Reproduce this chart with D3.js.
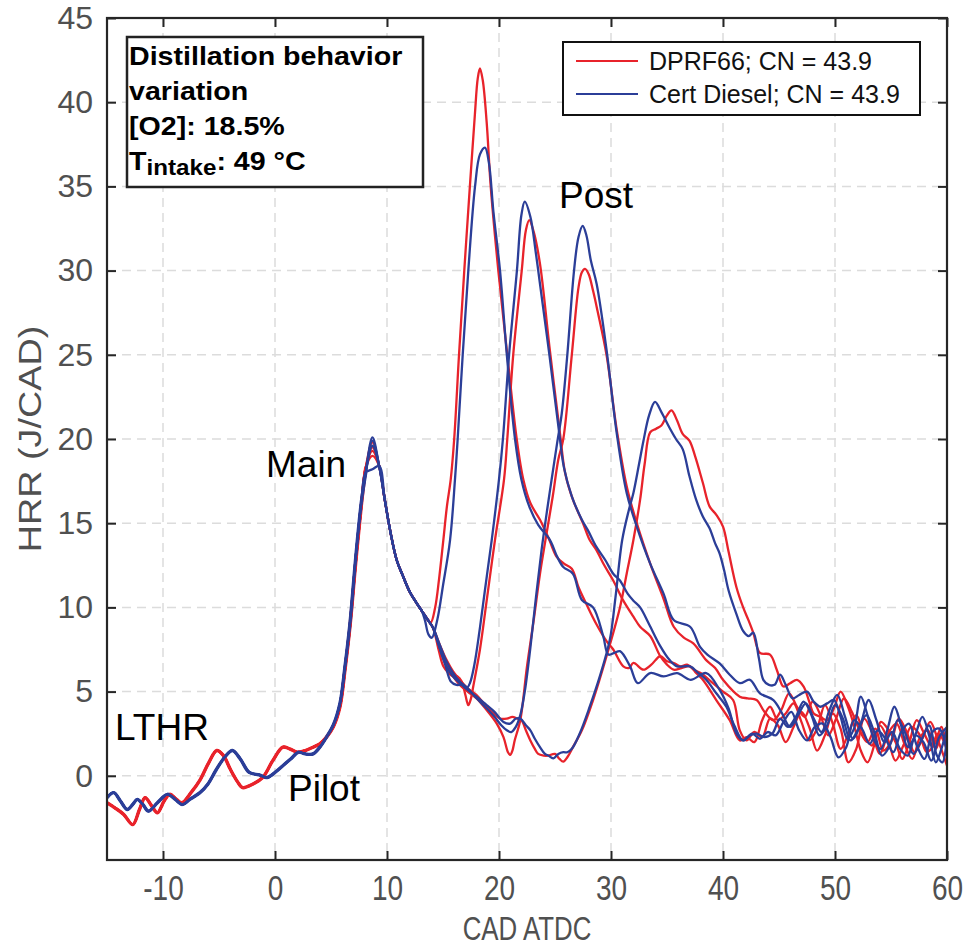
<!DOCTYPE html>
<html><head><meta charset="utf-8">
<script src="https://cdn.jsdelivr.net/npm/d3@7"></script>
<style>body{margin:0;background:#fff}</style>
</head><body>
<svg id="chart" width="973" height="950"></svg>
<script>
// ---------------- DATA ----------------
const xTicks = [-10, 0, 10, 20, 30, 40, 50, 60];
const yTicks = [0, 5, 10, 15, 20, 25, 30, 35, 40, 45];
const legendLabels = ["DPRF66; CN = 43.9", "Cert Diesel; CN = 43.9"];

// LTHR + pilot + main rise (shared by the four runs of each fuel)
const redPre = [[-15,-1.6],[-14.3,-1.9],[-13.5,-2.3],[-12.7,-2.9],[-12.1,-2.0],[-11.6,-1.3],[-11.0,-1.8],[-10.5,-2.2],[-9.9,-1.5],[-9.4,-1.1],[-8.8,-1.4],[-8.3,-1.6],[-7.5,-1.0],[-6.7,-0.25],[-5.9,0.8],[-5.2,1.5],[-4.6,1.2],[-4.0,0.4],[-3.4,-0.3],[-2.9,-0.7],[-2.0,-0.5],[-1.1,-0.1],[-0.2,0.9],[0.7,1.7],[1.3,1.6],[2.0,1.4],[2.7,1.5],[3.4,1.7],[4.0,1.9],[4.6,2.3],[5.2,2.9],[5.8,4.1],[6.25,6.3],[6.7,8.9],[7.2,12.6],[7.7,16.0],[8.1,18.3]];
const bluePre = [[-15,-1.3],[-14.4,-1.0],[-13.8,-1.5],[-13.2,-2.0],[-12.7,-1.7],[-12.3,-1.4],[-11.8,-1.7],[-11.3,-2.1],[-10.5,-1.6],[-9.6,-1.1],[-8.9,-1.4],[-8.3,-1.7],[-7.6,-1.4],[-6.7,-1.0],[-6.0,-0.5],[-5.3,0.3],[-4.5,1.1],[-3.8,1.5],[-3.1,1.0],[-2.3,0.2],[-1.4,0.05],[-0.7,-0.1],[0.0,0.2],[0.7,0.6],[1.4,1.0],[2.1,1.4],[2.7,1.3],[3.4,1.3],[4.0,1.7],[4.6,2.3],[5.2,3.0],[5.8,4.3],[6.25,6.5],[6.7,9.1],[7.2,12.9],[7.7,16.2],[8.1,18.0]];
const mainPeakX = 8.7;
const mainPeakRed = [19.8, 19.5, 19.3, 19.0];
const mainPeakBlue = [20.1, 19.9, 19.6, 18.2];
const mainDecay = [[9.3,18.4],[9.8,16.4],[10.3,14.5],[10.87,12.8],[11.4,11.9],[12.05,10.9],[12.6,10.3],[13.1,9.8]];

// Post-injection part of each run
const red1 = [[13.5,9.4],[13.9,9.1],[14.3,10.0],[14.65,11.7],[15.03,14.0],[15.35,16.0],[15.69,17.6],[16.0,20.0],[16.43,25.0],[16.9,30.0],[17.4,35.0],[17.85,39.3],[18.1,41.4],[18.3,42.0],[18.55,41.3],[18.9,38.8],[19.26,35.0],[19.94,30.0],[20.74,25.0],[21.58,20.0],[22.17,17.6],[22.8,16.2],[23.66,15.2],[24.1,14.6],[24.5,14.0],[25.15,13.0],[25.8,12.6],[26.5,12.3],[27.1,11.2],[27.8,10.2],[28.7,9.0],[29.6,8.0],[30.2,7.5],[31.1,6.5],[31.6,6.4],[32.0,6.7],[32.9,6.3],[33.6,6.6],[34.4,7.1],[35.0,6.8],[35.6,6.7],[36.2,6.5],[36.8,6.6],[37.4,6.3],[38.0,6.1],[39.1,5.5],[40.0,5.0],[40.9,4.5],[41.5,2.7],[42.1,2.1],[42.8,2.6],[43.5,2.3],[44.2,3.4],[44.9,3.0],[45.6,2.0],[46.3,2.9],[47.0,3.8],[47.7,2.9],[48.4,1.5],[49.1,2.4],[49.8,3.7],[50.5,2.8],[51.2,0.8],[51.9,1.6],[52.6,3.4],[53.3,2.6],[54.0,1.3],[54.8,2.6],[55.5,3.1],[56.2,1.9],[56.9,1.0],[57.6,2.3],[58.3,2.7],[59.0,1.6],[59.6,2.6],[60,2.0]];
const red2 = [[13.6,9.3],[14.1,8.8],[14.6,7.5],[15.03,6.5],[15.5,6.1],[15.9,5.9],[16.3,5.9],[16.67,5.6],[17.0,4.8],[17.26,4.2],[17.5,4.6],[17.7,5.3],[18.3,7.5],[18.9,10.4],[19.64,14.0],[20.45,17.6],[20.74,20.0],[21.27,25.0],[22.03,30.0],[22.4,32.4],[22.7,33.0],[23.1,32.3],[23.66,30.4],[24.5,25.5],[25.45,20.3],[25.9,18.0],[26.6,16.4],[27.5,15.0],[28.1,14.0],[28.7,13.4],[29.4,12.5],[30.2,11.6],[31.1,10.4],[32.0,9.45],[32.6,8.85],[33.5,8.3],[34.4,7.1],[35.0,6.6],[35.6,6.3],[36.3,6.4],[37.06,6.5],[37.6,6.1],[38.2,5.7],[39.4,4.5],[40.6,3.3],[41.5,2.1],[42.1,2.3],[42.8,2.0],[43.5,3.3],[44.2,4.1],[44.9,3.3],[45.6,3.7],[46.3,4.3],[47.0,3.2],[47.7,2.1],[48.4,2.8],[49.1,4.2],[49.8,3.1],[50.5,1.6],[51.2,2.5],[51.9,3.6],[52.6,2.4],[53.3,1.8],[54.0,3.0],[54.7,2.2],[55.4,0.9],[56.1,1.8],[56.8,2.9],[57.5,2.5],[58.2,1.4],[58.9,1.9],[59.5,2.9],[60,1.3]];
const red3 = [[13.6,9.3],[14.1,8.8],[14.7,7.6],[15.3,6.6],[15.9,5.9],[16.5,5.4],[17.2,5.0],[18.0,4.6],[18.9,3.9],[19.8,3.1],[20.4,2.3],[20.8,1.4],[21.0,1.24],[21.2,1.5],[21.4,2.1],[21.9,3.3],[22.5,6.5],[23.1,9.25],[23.66,12.0],[24.2,14.2],[24.8,16.6],[25.3,18.8],[25.74,20.0],[26.5,25.0],[27.1,29.0],[27.4,29.9],[27.68,30.1],[28.0,29.8],[28.4,28.8],[28.8,27.6],[29.6,25.0],[30.5,20.6],[31.4,17.2],[32.3,15.0],[33.5,12.6],[34.7,10.5],[35.6,8.85],[36.5,8.2],[37.35,7.86],[38.5,6.87],[39.3,6.4],[40.0,5.7],[41.5,4.7],[42.2,4.6],[43.0,4.5],[43.7,3.8],[44.5,3.3],[45.2,3.9],[45.9,4.9],[46.6,4.1],[47.3,3.5],[48.0,4.4],[48.7,3.6],[49.4,2.4],[50.1,3.4],[50.8,4.6],[51.5,3.8],[52.2,2.7],[52.9,2.0],[53.6,2.8],[54.3,1.5],[55.0,2.0],[55.7,3.4],[56.4,2.6],[57.1,1.4],[57.8,2.2],[58.5,3.2],[59.2,2.1],[60,0.6]];
const red4 = [[13.6,9.3],[14.1,8.8],[14.7,7.8],[15.3,6.9],[15.9,6.2],[16.5,5.7],[17.2,5.2],[18.0,4.8],[18.9,4.1],[19.5,3.7],[20.1,3.4],[20.7,3.4],[21.2,3.5],[21.6,3.4],[22.0,3.3],[22.4,2.7],[22.8,2.1],[23.2,1.6],[23.5,1.3],[24.0,1.2],[24.4,1.2],[25.0,1.3],[25.4,1.0],[25.74,0.84],[26.1,1.1],[26.6,1.7],[27.4,2.7],[28.4,4.5],[29.6,7.1],[30.8,10.0],[31.4,12.0],[32.0,14.0],[32.6,16.4],[33.0,18.5],[33.5,20.4],[34.0,20.6],[34.5,20.8],[35.0,21.4],[35.4,21.7],[35.9,21.1],[36.4,20.3],[37.0,19.9],[37.5,19.0],[38.2,17.4],[38.8,16.0],[39.4,15.5],[40.0,14.8],[40.5,13.3],[41.2,11.2],[41.8,10.0],[42.3,9.2],[42.7,8.5],[43.3,7.3],[44.2,7.2],[44.8,6.3],[45.4,5.3],[46.0,5.5],[46.6,5.7],[47.2,5.3],[47.7,4.4],[48.1,3.7],[48.7,3.5],[49.3,3.3],[49.9,4.0],[50.5,5.0],[51.1,4.2],[51.7,3.0],[52.3,1.5],[52.9,0.8],[53.5,1.8],[54.1,3.2],[54.8,2.7],[55.4,2.0],[56.0,1.0],[56.6,1.9],[57.3,3.3],[57.9,2.6],[58.6,1.8],[59.2,2.5],[60,1.6]];
const blue1 = [[13.4,9.2],[13.7,8.4],[14.0,8.2],[14.5,9.3],[15.0,11.3],[15.63,14.0],[16.07,17.6],[16.31,20.0],[16.76,25.0],[17.26,30.0],[17.86,35.0],[18.3,36.9],[18.75,37.3],[19.1,36.4],[19.5,33.5],[20.09,30.0],[20.7,25.0],[21.43,20.0],[22.0,17.6],[22.7,16.0],[23.5,14.9],[24.55,14.0],[25.2,13.0],[25.74,12.4],[26.6,12.0],[27.4,10.44],[28.4,10.0],[29.3,8.3],[29.76,7.2],[30.3,7.3],[30.8,7.4],[31.7,6.5],[32.4,5.5],[33.5,6.1],[34.7,5.9],[35.9,6.1],[37.1,5.7],[38.5,6.1],[39.7,5.1],[40.5,4.0],[41.2,2.5],[41.8,2.1],[42.6,2.5],[43.3,2.2],[44.0,2.6],[44.7,2.4],[45.4,3.2],[46.1,3.8],[46.8,2.7],[47.5,2.1],[48.2,2.9],[48.9,3.1],[49.6,2.3],[50.3,1.1],[51.0,1.7],[51.7,3.3],[52.4,2.8],[53.1,1.9],[53.8,2.7],[54.5,2.2],[55.2,1.4],[55.9,2.6],[56.6,3.1],[57.3,1.8],[58.0,1.0],[58.7,2.6],[59.3,2.8],[60,1.4]];
const blue2 = [[13.6,9.3],[14.1,8.8],[14.6,7.8],[15.2,6.6],[15.7,5.6],[16.2,5.4],[16.7,5.4],[17.1,5.2],[17.4,5.5],[17.8,6.6],[18.3,8.8],[18.8,11.3],[19.35,14.0],[20.0,17.6],[20.35,20.0],[20.9,25.0],[21.6,30.0],[22.0,33.3],[22.3,34.1],[22.8,33.2],[23.3,31.0],[23.7,29.0],[24.5,25.0],[25.35,20.5],[25.8,18.3],[26.5,16.6],[27.4,15.2],[28.0,14.5],[28.6,13.7],[29.5,12.8],[30.2,12.0],[30.8,11.6],[31.5,10.8],[32.0,10.4],[32.6,10.0],[33.4,9.0],[34.4,7.7],[35.2,6.9],[35.9,6.5],[37.06,6.5],[37.8,6.1],[38.5,5.7],[39.4,4.9],[40.3,4.1],[41.0,3.0],[41.8,2.1],[42.4,2.4],[43.0,2.5],[43.7,2.3],[44.4,2.5],[45.1,3.4],[45.8,2.9],[46.5,3.5],[47.2,4.4],[47.9,3.6],[48.6,2.4],[49.3,3.0],[50.0,4.2],[50.7,3.4],[51.4,2.1],[52.1,2.8],[52.8,3.6],[53.5,2.6],[54.2,1.2],[54.9,1.8],[55.6,3.3],[56.3,2.5],[57.0,1.3],[57.7,2.1],[58.4,3.0],[59.1,1.2],[59.6,0.8],[60,2.4]];
const blue3 = [[13.6,9.3],[14.1,8.8],[14.7,7.8],[15.3,6.8],[15.9,6.1],[16.5,5.6],[17.2,5.2],[18.0,4.6],[18.9,4.0],[19.6,3.5],[20.2,3.0],[20.7,2.7],[21.1,2.6],[21.5,2.9],[21.9,3.6],[22.3,5.0],[22.8,7.6],[23.3,10.6],[23.8,13.4],[24.3,15.8],[24.7,17.6],[25.2,19.8],[25.6,21.5],[26.1,25.0],[26.7,30.0],[27.1,32.0],[27.47,32.65],[27.8,32.1],[28.2,30.6],[28.72,29.2],[29.6,25.3],[30.5,20.4],[31.4,16.8],[32.3,14.8],[33.5,12.6],[34.7,10.8],[35.6,9.25],[37.06,8.85],[37.95,7.66],[38.6,7.2],[39.7,6.67],[40.6,6.0],[41.5,5.5],[42.4,5.7],[43.3,4.9],[44.5,4.5],[45.2,3.8],[46.0,2.9],[46.7,3.6],[47.4,4.3],[48.1,3.4],[48.8,2.6],[49.5,3.9],[50.2,4.8],[50.9,3.5],[51.6,2.2],[52.3,3.1],[53.0,4.5],[53.7,3.3],[54.4,2.0],[55.1,2.6],[55.8,1.6],[56.5,1.2],[57.2,2.4],[57.9,2.0],[58.6,0.9],[59.3,2.3],[60,2.9]];
const blue4 = [[13.6,9.3],[14.1,8.8],[14.7,7.6],[15.3,6.5],[15.9,5.9],[16.5,5.5],[17.2,5.1],[18.0,4.7],[18.9,4.2],[19.6,3.8],[20.4,3.2],[21.0,3.1],[21.5,3.4],[21.9,3.4],[22.4,3.0],[22.8,2.7],[23.2,2.2],[23.66,1.7],[24.1,1.3],[24.4,1.2],[24.85,1.04],[25.3,1.3],[25.74,1.4],[26.1,1.4],[26.5,1.6],[27.2,2.5],[28.1,4.1],[29.0,5.9],[29.9,8.1],[30.4,10.6],[31.0,14.0],[31.6,15.8],[32.0,16.8],[32.5,18.5],[32.9,19.9],[33.4,21.4],[33.93,22.2],[34.5,21.6],[35.2,20.7],[35.8,20.0],[36.4,19.4],[37.0,17.8],[37.6,16.4],[38.2,15.4],[38.8,14.7],[39.3,13.8],[39.7,13.2],[40.1,12.2],[40.5,11.0],[41.2,9.6],[41.8,8.6],[42.3,8.3],[42.7,8.5],[43.2,7.0],[43.6,5.7],[44.1,5.4],[44.6,5.4],[45.1,6.0],[45.6,5.4],[46.2,4.6],[46.8,4.8],[47.5,5.0],[48.1,4.4],[48.7,4.1],[49.3,4.3],[49.9,4.5],[50.5,3.5],[51.1,2.2],[51.7,2.8],[52.3,4.7],[52.9,3.6],[53.5,2.1],[54.1,1.6],[54.7,2.8],[55.3,4.1],[55.9,3.0],[56.5,1.7],[57.1,2.3],[57.8,3.5],[58.4,2.4],[59.0,0.8],[59.5,1.6],[60,2.8]];

// ---------------- CHART ----------------
const RED = "#e8232b", BLUE = "#2b3e98";
const FONT = "'Liberation Sans', Arial, Helvetica, sans-serif";
const svg = d3.select("#chart");
const L = 107, R = 947, T = 18, B = 860;
const x = d3.scaleLinear().domain([-15, 60]).range([L, R]);
const y = d3.scaleLinear().domain([-5, 45]).range([B, T]);

// grid
const grid = svg.append("g").attr("stroke", "#dcdcdc").attr("stroke-width", 1.5).attr("stroke-dasharray", "9,6");
grid.selectAll("line.gx").data(xTicks.filter(d => d < 60)).join("line")
  .attr("x1", d => x(d)).attr("x2", d => x(d)).attr("y1", T).attr("y2", B);
grid.selectAll("line.gy").data(yTicks.filter(d => d < 45)).join("line")
  .attr("y1", d => y(d)).attr("y2", d => y(d)).attr("x1", L).attr("x2", R);

// curves
svg.append("defs").append("clipPath").attr("id", "clip")
  .append("rect").attr("x", L).attr("y", T).attr("width", R - L).attr("height", B - T);

const reds = [red1, red2, red3, red4].map((p, i) => ({color: RED, pts: redPre.concat([[mainPeakX, mainPeakRed[i]]], mainDecay, p)}));
const blues = [blue1, blue2, blue3, blue4].map((p, i) => ({color: BLUE, pts: bluePre.concat([[mainPeakX, mainPeakBlue[i]]], mainDecay, p)}));
const line = d3.line().x(d => x(d[0])).y(d => y(d[1])).curve(d3.curveCatmullRom.alpha(0.5));
const cg = svg.append("g").attr("clip-path", "url(#clip)");
// early common section drawn slightly heavier (several overlapping runs)
cg.selectAll("path.pre").data([{color: RED, pts: redPre}, {color: BLUE, pts: bluePre}]).join("path")
  .attr("d", d => line(d.pts)).attr("fill", "none").attr("stroke", d => d.color).attr("stroke-width", 3.4);
cg.selectAll("path.run").data(reds.concat(blues)).join("path")
  .attr("d", d => line(d.pts)).attr("fill", "none")
  .attr("stroke", d => d.color).attr("stroke-width", 2.3).attr("stroke-linejoin", "round");

// axes
const AX = "#262626", TXT = "#505050";
const gB = svg.append("g").attr("transform", `translate(0,${B})`)
  .call(d3.axisBottom(x).tickValues(xTicks).tickFormat(d => String(d)).tickSizeInner(-9).tickSizeOuter(0).tickPadding(15));
const gL = svg.append("g").attr("transform", `translate(${L},0)`)
  .call(d3.axisLeft(y).tickValues(yTicks).tickFormat(d => String(d)).tickSizeInner(-9).tickSizeOuter(0).tickPadding(14));
const gT = svg.append("g").attr("transform", `translate(0,${T})`)
  .call(d3.axisTop(x).tickValues(xTicks).tickSizeInner(-9).tickSizeOuter(0).tickFormat(""));
const gR = svg.append("g").attr("transform", `translate(${R},0)`)
  .call(d3.axisRight(y).tickValues(yTicks).tickSizeInner(-9).tickSizeOuter(0).tickFormat(""));
[gB, gL, gT, gR].forEach(g => {
  g.select(".domain").remove();
  g.selectAll(".tick line").attr("stroke", AX).attr("stroke-width", 2);
  g.selectAll(".tick text").attr("fill", TXT).attr("font-family", FONT).attr("font-size", 32);
});
gB.selectAll(".tick text").attr("font-size", 35).attr("transform", "scale(0.8,1)");
svg.append("rect").attr("x", L).attr("y", T).attr("width", R - L).attr("height", B - T)
  .attr("fill", "none").attr("stroke", AX).attr("stroke-width", 2.2);

// axis titles
svg.append("text").attr("transform", "translate(527,940) scale(0.76,1)")
  .attr("text-anchor", "middle").attr("font-family", FONT).attr("font-size", 34).attr("fill", TXT)
  .text("CAD ATDC");
svg.append("text").attr("transform", `translate(41,${(T + B) / 2}) rotate(-90) scale(1.18,1)`)
  .attr("text-anchor", "middle").attr("font-family", FONT).attr("font-size", 32).attr("fill", TXT)
  .text("HRR (J/CAD)");

// annotations
const notes = [["Post", 559, 208], ["Main", 266, 477], ["LTHR", 115, 740], ["Pilot", 288, 801]];
svg.append("g").selectAll("text").data(notes).join("text")
  .attr("x", d => d[1]).attr("y", d => d[2]).attr("font-family", FONT).attr("font-size", 37).attr("fill", "#000")
  .text(d => d[0]);

// info box
svg.append("rect").attr("x", 127).attr("y", 37).attr("width", 296).attr("height", 150)
  .attr("fill", "#fff").attr("stroke", "#222").attr("stroke-width", 2.5);
const info = svg.append("g").attr("transform", "translate(129,0) scale(1.1,1)")
  .attr("font-family", FONT).attr("font-weight", "bold").attr("font-size", 26).attr("fill", "#000");
info.append("text").attr("y", 65).text("Distillation behavior");
info.append("text").attr("y", 100).text("variation");
info.append("text").attr("y", 135).text("[O2]: 18.5%");
const t4 = info.append("text").attr("y", 170);
t4.append("tspan").text("T");
t4.append("tspan").attr("font-size", 22).attr("dy", 5).text("intake");
t4.append("tspan").attr("dy", -5).text(": 49 °C");

// legend
svg.append("rect").attr("x", 563).attr("y", 42).attr("width", 357).attr("height", 73)
  .attr("fill", "#fff").attr("stroke", "#111").attr("stroke-width", 2);
const lg = svg.append("g").selectAll("g").data(legendLabels).join("g")
  .attr("transform", (d, i) => `translate(0,${61 + i * 33})`);
lg.append("line").attr("x1", 576).attr("x2", 638).attr("stroke", (d, i) => i === 0 ? RED : BLUE).attr("stroke-width", 2.2);
lg.append("text").attr("x", 649).attr("y", 8.5).attr("font-family", FONT).attr("font-size", 25).attr("fill", "#111").text(d => d);
</script>
</body></html>
